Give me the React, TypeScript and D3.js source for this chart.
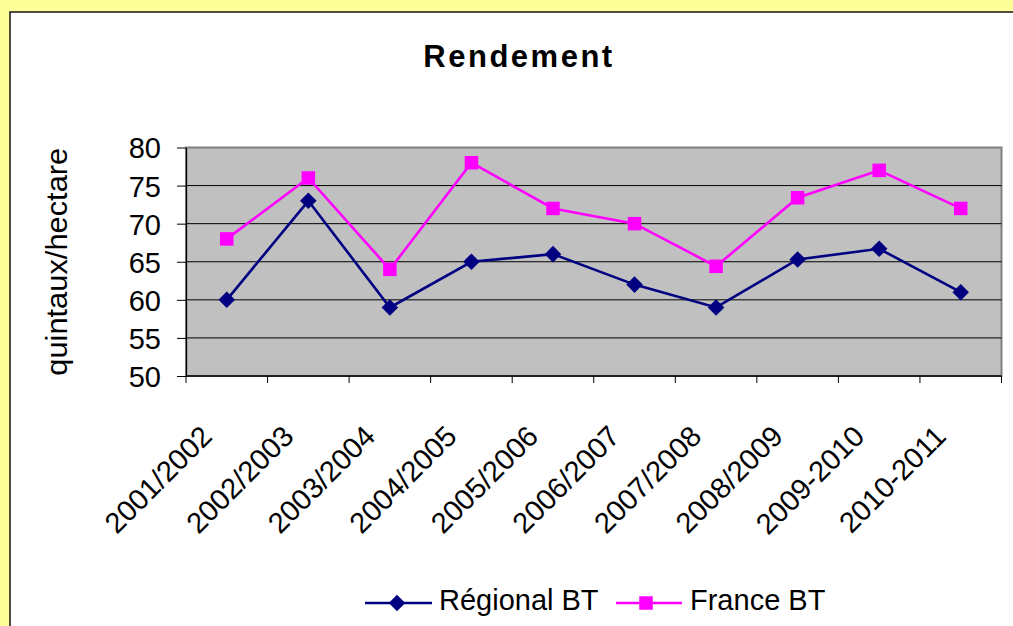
import React, { useEffect, useRef } from "react";
import * as d3 from "d3";

const seasons = [
  "2001/2002", "2002/2003", "2003/2004", "2004/2005", "2005/2006",
  "2006/2007", "2007/2008", "2008/2009", "2009-2010", "2010-2011",
];
const regionalBT = [60, 73, 59, 65, 66, 62, 59, 65.3, 66.7, 61];
const franceBT = [68, 76, 64, 78, 72, 70, 64.4, 73.4, 77, 72];
const yTicks = [50, 55, 60, 65, 70, 75, 80];

const W = 1013, H = 626;
const FONT = "'Liberation Sans', Arial, sans-serif";

export default function App() {
  const ref = useRef<SVGSVGElement>(null);

  useEffect(() => {
    const svg = d3.select(ref.current);
    svg.selectAll("*").remove();

    // background + chart area
    svg.append("rect").attr("width", W).attr("height", H).attr("fill", "#FFFF99");
    svg.append("rect")
      .attr("x", 10).attr("y", 12)
      .attr("width", W + 20).attr("height", H + 20)
      .attr("fill", "#fff").attr("stroke", "#222").attr("stroke-width", 1.6);

    const left = 186, right = 1001.5, top = 147.5, bottom = 376;

    const x = d3.scaleBand().domain(seasons).range([left, right]);
    const y = d3.scaleLinear().domain([50, 80]).range([bottom, top]);

    // plot area
    svg.append("rect")
      .attr("x", left).attr("y", top)
      .attr("width", right - left).attr("height", bottom - top)
      .attr("fill", "#C0C0C0").attr("stroke", "#808080").attr("stroke-width", 2);

    // gridlines
    svg.append("g").selectAll("line")
      .data(yTicks.filter(t => t > 50 && t < 80))
      .join("line")
      .attr("x1", left).attr("x2", right)
      .attr("y1", d => y(d)).attr("y2", d => y(d))
      .attr("stroke", "#000").attr("stroke-width", 1);

    // y axis
    const yAxis = svg.append("g")
      .attr("transform", `translate(${left},0)`)
      .call(d3.axisLeft(y).tickValues(yTicks).tickSize(9).tickPadding(16).tickSizeOuter(0));
    yAxis.select(".domain").attr("stroke", "#000").attr("stroke-width", 1.3);
    yAxis.selectAll(".tick line").attr("stroke", "#000");
    yAxis.selectAll("text")
      .attr("font-family", FONT).attr("font-size", 29).attr("fill", "#000")
      .attr("dy", "0.36em");

    // x axis
    const boundaries = seasons.map(s => x(s)!).concat([right]);
    svg.append("line")
      .attr("x1", left).attr("x2", right).attr("y1", bottom).attr("y2", bottom)
      .attr("stroke", "#000").attr("stroke-width", 1.3);
    svg.append("g").selectAll("line")
      .data(boundaries)
      .join("line")
      .attr("x1", d => d).attr("x2", d => d)
      .attr("y1", bottom).attr("y2", bottom + 7)
      .attr("stroke", "#000");

    svg.append("g").selectAll("text")
      .data(seasons)
      .join("text")
      .attr("transform", d => `translate(${x(d)! + x.bandwidth() / 2 - 13},${bottom + 62}) rotate(-45)`)
      .attr("text-anchor", "end")
      .attr("font-family", FONT).attr("font-size", 29)
      .text(d => d);

    // series
    const cx = (i: number) => x(seasons[i])! + x.bandwidth() / 2;
    const line = d3.line<number>().x((_, i) => cx(i)).y(d => y(d));

    svg.append("path").datum(franceBT)
      .attr("d", line).attr("fill", "none")
      .attr("stroke", "#FF00FF").attr("stroke-width", 2.6);
    svg.append("path").datum(regionalBT)
      .attr("d", line).attr("fill", "none")
      .attr("stroke", "#000080").attr("stroke-width", 2.6);

    const sq = 13.5;
    svg.append("g").selectAll("rect")
      .data(franceBT)
      .join("rect")
      .attr("x", (_, i) => cx(i) - sq / 2).attr("y", d => y(d) - sq / 2)
      .attr("width", sq).attr("height", sq)
      .attr("fill", "#FF00FF");

    const diamond = d3.symbol().type(d3.symbolDiamond2).size(175);
    svg.append("g").selectAll("path")
      .data(regionalBT)
      .join("path")
      .attr("d", diamond)
      .attr("transform", (d, i) => `translate(${cx(i)},${y(d)})`)
      .attr("fill", "#000080");

    // title
    svg.append("text")
      .attr("x", 519).attr("y", 67)
      .attr("text-anchor", "middle")
      .attr("font-family", FONT).attr("font-size", 31).attr("font-weight", "bold")
      .attr("letter-spacing", 2.5)
      .text("Rendement");

    // y title
    svg.append("text")
      .attr("transform", `translate(67,${(top + bottom) / 2}) rotate(-90)`)
      .attr("text-anchor", "middle")
      .attr("font-family", FONT).attr("font-size", 29)
      .attr("textLength", 228).attr("lengthAdjust", "spacingAndGlyphs")
      .text("quintaux/hectare");

    // legend
    const lg = svg.append("g");
    lg.append("line").attr("x1", 365).attr("x2", 432).attr("y1", 603).attr("y2", 603)
      .attr("stroke", "#000080").attr("stroke-width", 2.6);
    lg.append("path").attr("d", diamond)
      .attr("transform", "translate(397,603)").attr("fill", "#000080");
    lg.append("text").attr("x", 439).attr("y", 610)
      .attr("font-family", FONT).attr("font-size", 29).text("Régional BT");
    lg.append("line").attr("x1", 616).attr("x2", 682).attr("y1", 603).attr("y2", 603)
      .attr("stroke", "#FF00FF").attr("stroke-width", 2.6);
    lg.append("rect").attr("x", 646 - sq / 2).attr("y", 603 - sq / 2)
      .attr("width", sq).attr("height", sq).attr("fill", "#FF00FF");
    lg.append("text").attr("x", 690).attr("y", 610)
      .attr("font-family", FONT).attr("font-size", 29).text("France BT");
  }, []);

  return (
    <svg ref={ref} width={W} height={H}
      style={{ position: "absolute", left: 0, top: 0, display: "block" }} />
  );
}
